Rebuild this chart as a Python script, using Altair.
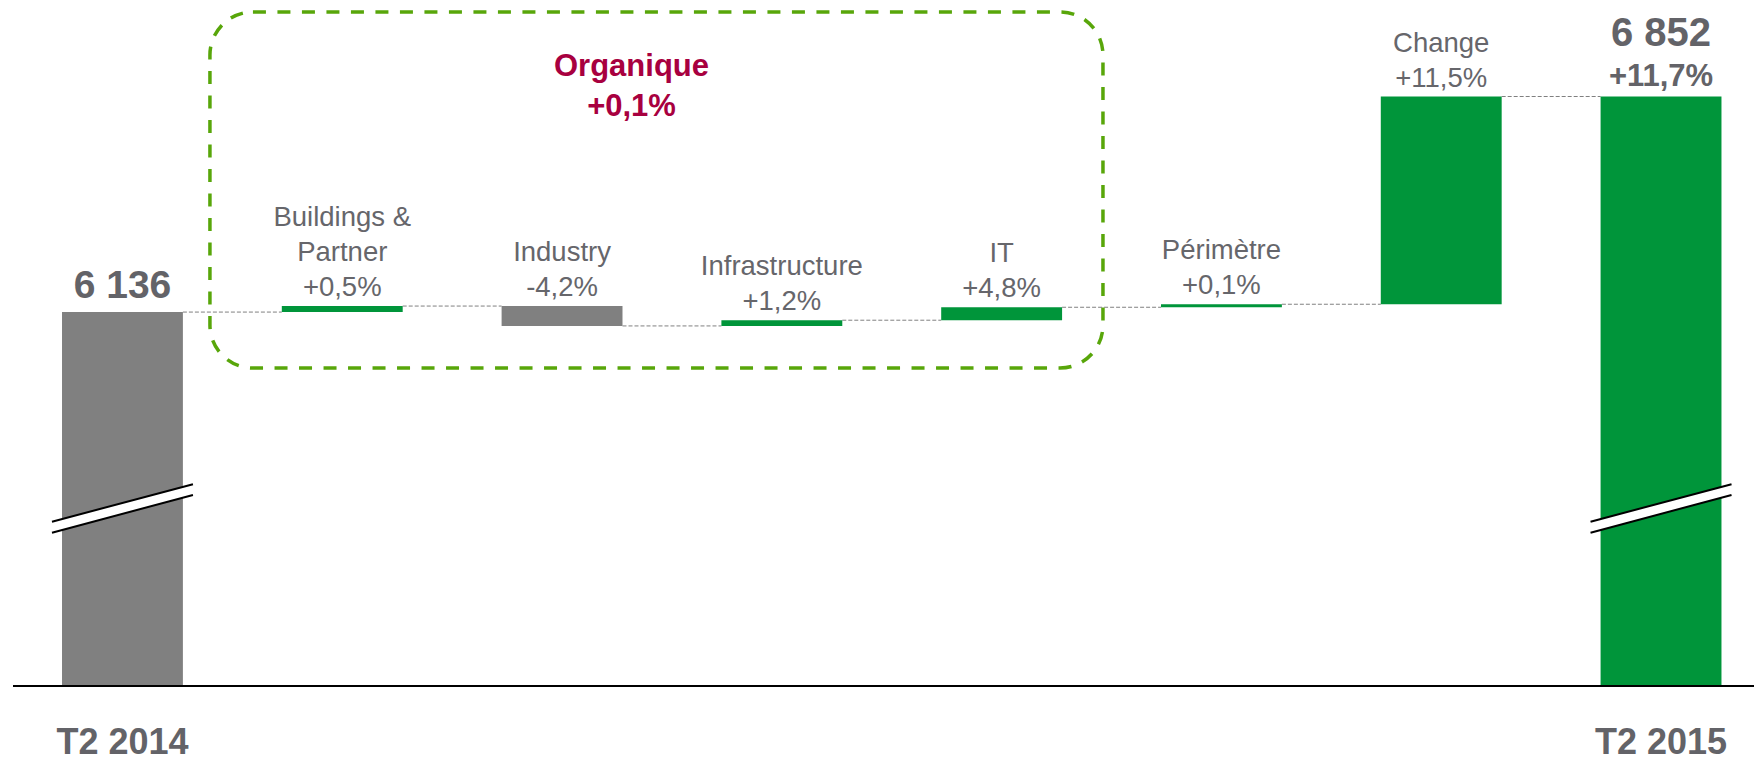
import altair as alt
import pandas as pd

# ---------------- data ----------------
categories = ["T2 2014", "Buildings & Partner", "Industry", "Infrastructure",
              "IT", "Périmètre", "Change", "T2 2015"]
kinds = ["total", "delta", "delta", "delta", "delta", "delta", "delta", "total"]
values = [6136, 20, -66, 19, 43, 10, 690, 6852]
top_labels = ["6 136", "Buildings &\nPartner\n+0,5%", "Industry\n-4,2%",
              "Infrastructure\n+1,2%", "IT\n+4,8%", "Périmètre\n+0,1%",
              "Change\n+11,5%", "+11,7%"]
final_value_label = "6 852"
bottom_labels = ["T2 2014", "T2 2015"]
organic_label = "Organique\n+0,1%"

# ---------------- layout / style constants ----------------
Y_MIN, Y_MAX = 4894, 7146          # broken value axis
X_MIN, X_MAX = -0.498, 7.423
BAR_HALF = 0.275
Y_BREAK = 5484
BOX = dict(x=0.398, x2=4.461, y=5950, y2=7133)
ORG_POS = dict(x=2.316, y=6787)
LABEL_LH = 35
ORG_LH = 40

GREEN = "#00953A"
GREY = "#808080"
TXT = "#66666B"
TXT_BOLD = "#636368"
CRIMSON = "#A8003F"
BOX_GREEN = "#58A60A"
FONT = "Liberation Sans"

# ---------------- build table ----------------
rows = []
running = 0
for i, (c, k, v, lab) in enumerate(zip(categories, kinds, values, top_labels)):
    if k == "total":
        start, end = Y_MIN, v
        running = v
        color = GREY if i == 0 else GREEN
    else:
        start, end = running, running + v
        running = end
        color = GREEN if v >= 0 else GREY
    rows.append(dict(cat=c, idx=i, x0=i - BAR_HALF, x1=i + BAR_HALF,
                     start=start, end=end, top=max(start, end),
                     level=end, color=color, label=lab, kind=k,
                     nlines=lab.count("\n") + 1))
df = pd.DataFrame(rows)

conn = pd.DataFrame([
    dict(x0=df.idx[i] + BAR_HALF, x1=df.idx[i + 1] - BAR_HALF, y=df.level[i])
    for i in range(len(df) - 1)
])

xs = alt.Scale(domain=[X_MIN, X_MAX], nice=False, zero=False)
ys = alt.Scale(domain=[Y_MIN, Y_MAX], nice=False, zero=False)


def X(f):
    return alt.X(f, scale=xs, axis=None)


def Y(f):
    return alt.Y(f, scale=ys, axis=None)


baseline_rule = alt.Chart(pd.DataFrame([dict(a=X_MIN, b=X_MAX, y=Y_MIN)])).mark_rule(
    color="#000000", strokeWidth=2
).encode(x=X("a:Q"), x2="b:Q", y=Y("y:Q"))

bars = alt.Chart(df).mark_bar().encode(
    x=X("x0:Q"), x2="x1:Q",
    y=Y("start:Q"), y2="end:Q",
    color=alt.Color("color:N", scale=None),
)

connectors = alt.Chart(conn).mark_rule(
    color=GREY, strokeWidth=1, strokeDash=[4, 2]
).encode(x=X("x0:Q"), x2="x1:Q", y=Y("y:Q"))

breaks_df = df[df.kind == "total"].assign(ybreak=Y_BREAK)
fill_path = "M -1 0.189 L 1 -0.342 L 1 -0.19 L -1 0.345 Z"
line_path = "M -1 0.189 L 1 -0.342 M -1 0.345 L 1 -0.19"
break_fill = alt.Chart(breaks_df).mark_point(
    shape=fill_path, size=19881, filled=True, fill="white", opacity=1,
    strokeWidth=0
).encode(x=X("idx:Q"), y=Y("ybreak:Q"))
break_lines = alt.Chart(breaks_df).mark_point(
    shape=line_path, size=19881, filled=False, stroke="#000000",
    strokeWidth=2, opacity=1
).encode(x=X("idx:Q"), y=Y("ybreak:Q"))

deltas = df[df.kind == "delta"]
delta_layers = []
for n in sorted(deltas.nlines.unique()):
    delta_layers.append(
        alt.Chart(deltas[deltas.nlines == n]).mark_text(
            font=FONT, fontSize=27.5, color=TXT, baseline="bottom",
            align="center", lineBreak="\n", lineHeight=LABEL_LH,
            dy=-4 - LABEL_LH * (int(n) - 1)
        ).encode(x=X("idx:Q"), y=Y("top:Q"), text="label:N")
    )

first_total = alt.Chart(df[df.idx == 0]).mark_text(
    font=FONT, fontSize=39, fontWeight="bold", color=TXT_BOLD,
    baseline="alphabetic", align="center", dy=-14
).encode(x=X("idx:Q"), y=Y("top:Q"), text="label:N")

last = df[df.idx == len(df) - 1]
last_pct = alt.Chart(last).mark_text(
    font=FONT, fontSize=31, fontWeight="bold", color=TXT_BOLD,
    baseline="alphabetic", align="center", dy=-11
).encode(x=X("idx:Q"), y=Y("top:Q"), text="label:N")
last_val = alt.Chart(last).mark_text(
    font=FONT, fontSize=40, fontWeight="bold", color=TXT_BOLD,
    baseline="alphabetic", align="center", dy=-51
).encode(x=X("idx:Q"), y=Y("top:Q"), text=alt.value(final_value_label))

bottom_df = df[df.kind == "total"].assign(blabel=bottom_labels)
bottom_text = alt.Chart(bottom_df).mark_text(
    font=FONT, fontSize=36, fontWeight="bold", color=TXT_BOLD,
    baseline="alphabetic", align="center", dy=68
).encode(x=X("idx:Q"), y=Y("start:Q"), text="blabel:N")

box = alt.Chart(pd.DataFrame([BOX])).mark_rect(
    fillOpacity=0, fill="white", stroke=BOX_GREEN, strokeWidth=3.5,
    strokeDash=[13, 11.5], cornerRadius=43
).encode(x=X("x:Q"), x2="x2:Q", y=Y("y:Q"), y2="y2:Q")

organic = alt.Chart(pd.DataFrame([ORG_POS])).mark_text(
    font=FONT, fontSize=31, fontWeight="bold", color=CRIMSON,
    baseline="bottom", align="center", lineBreak="\n", lineHeight=ORG_LH,
    dy=7 - ORG_LH * (organic_label.count("\n"))
).encode(x=X("x:Q"), y=Y("y:Q"), text=alt.value(organic_label))

chart = alt.layer(
    box, connectors, bars, baseline_rule, break_fill, break_lines,
    *delta_layers, first_total, last_pct, last_val, bottom_text, organic
).properties(
    width=1741, height=678,
    autosize=alt.AutoSizeParams(type="none"),
    padding={"left": 5, "top": 0, "right": 0, "bottom": 76},
).configure_view(stroke=None)

chart.save("out.html", embed_options={"renderer": "svg", "actions": False})
